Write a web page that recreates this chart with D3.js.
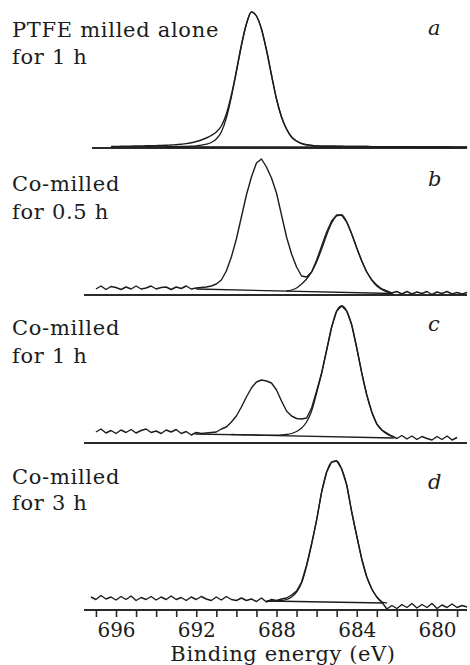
<!DOCTYPE html>
<html><head><meta charset="utf-8">
<script src="https://cdn.jsdelivr.net/npm/d3@7"></script>
<style>
html,body{margin:0;padding:0;background:#fff;}
svg{display:block;}
</style></head>
<body>
<svg id="chart" width="470" height="665"></svg>
<script>
// ---------- data ----------
const energy = [697.25,697,696.75,696.5,696.25,696,695.75,695.5,695.25,695,694.75,694.5,694.25,694,693.75,693.5,693.25,693,692.75,692.5,692.25,692,691.75,691.5,691.25,691,690.75,690.5,690.25,690,689.75,689.5,689.25,689,688.75,688.5,688.25,688,687.75,687.5,687.25,687,686.75,686.5,686.25,686,685.75,685.5,685.25,685,684.75,684.5,684.25,684,683.75,683.5,683.25,683,682.75,682.5,682.25,682,681.75,681.5,681.25,681,680.75,680.5,680.25,680,679.75,679.5,679.25,679,678.75,678.5];

const spectrumA = [null,null,null,null,1.5,1.6,1.7,1.8,1.9,2.0,2.1,2.2,2.3,2.4,2.5,2.7,3.0,3.3,3.8,4.4,5.3,6.5,8,10,12.5,16,22,34,53,77,103,124,136,132,119,98,73,49,31,19,11,7,4.5,3.2,2.5,2.1,1.9,1.8,1.8,1.7,1.7,1.6,1.6,1.5,1.5,1.5,1.4,1.4,1.4,1.3,1.3,1.3,1.2,1.2,1.2,1.1,1.1,1.1,1.0,1.0,1.0,1.0,0.9,0.9,0.9,0.9];
const fitA = [null,null,null,null,null,null,null,null,null,null,null,null,null,null,null,1.4,1.4,1.4,1.5,1.6,1.8,2.2,2.8,3.8,5.5,9,16,30,51,76,102,124,136,132,119,98,73,49,31,19,11,7,4.5,3.2,2.5,2.1,1.9,1.8,1.8,1.7,1.7,1.6,1.6,1.5,1.5,1.5,1.4,1.4,1.4,1.3,1.3,1.3,1.2,1.2,1.2,1.1,1.1,1.1,1.0,1.0,1.0,1.0,0.9,0.9,0.9,0.9];
const bgEnergyA = [696.25, 678.5];
const bgA = [1.4, 0.9];

const spectrumB = [null,6,9,5.5,8.5,7.5,5.5,8,6,9,6,7,9,6,7.5,8,5.5,8,6.5,9,6,7,7.5,8,9,11,15,24,38,56,78,100,118,132,136,128,117,102,80,58,41,28,19,18,23,35,49,63,74,80,80,73,61,47,34,23,15,10,6,4,2,3.5,1,3.5,1,3,1.5,3.5,0.5,3,1.5,3.5,1,2.5,1,2.5];
const fitB = [null,null,null,null,null,null,null,null,null,null,null,null,null,null,null,null,null,null,null,null,null,null,null,null,null,null,null,null,null,null,null,null,null,null,null,null,null,null,null,4,5,7,11,16,23,33,46,60,72,79,80,73,61,47,34,23,15,9,5.5,3,2,null,null,null,null,null,null,null,null,null,null,null,null,null,null,null];
const bgEnergyB = [692.0, 682.2];
const bgB = [6, 1.5];

const spectrumC = [null,11,14,10,12.5,9.5,13,10.5,13.5,10,12.5,14,10.5,12,9.5,13,11,13.5,9.5,11.5,8,10.5,9.5,10,10.5,11,14,16,21,27,36,46,55,61,63,62,60,53,42,32,27,24.5,24,25,35,52,70,93,116,132,137,132,118,95,70,48,31,19,13,10,7,4.5,7.5,4,7,3.5,6.5,4.5,3,6.5,3.5,7,3,5.5,null,null];
const fitC = [null,null,null,null,null,null,null,null,null,null,null,null,null,null,null,null,null,null,null,null,null,null,null,null,null,null,null,null,8.5,8.4,8.3,8.2,8.1,8.0,7.9,7.8,7.8,7.8,8.0,8.5,9.5,11.5,15,21,32,50,70,93,116,132,137,132,118,95,70,48,31,19,13,9,6.5,null,null,null,null,null,null,null,null,null,null,null,null,null,null,null];
const bgEnergyC = [692.05, 682.15];
const bgC = [9, 5];

const spectrumD = [13,10.5,14.5,11,13,10,13.5,10.5,14,9.5,12.5,10.5,13.5,10,13,10.5,14,10.5,12.5,9.5,13,10.5,13.5,11,9.5,13,10,13.5,10.5,9.5,12,9.5,11,8.5,12,8,10.5,9.5,11,12,15,19,28,45,66,90,118,138,148,149,141,125,98,74,51,33,21,13,8,1,4.5,1.5,5.5,2.5,6.5,2,5.5,2.5,6.5,1.5,5,2.5,6,2.5,4.5,3];
const fitD = [null,null,null,null,null,null,null,null,null,null,null,null,null,null,null,null,null,null,null,null,null,null,null,null,null,null,null,null,null,null,null,null,null,null,null,9,9,9.2,9.5,10.5,13,18,27,44,66,90,118,138,148,149,141,125,98,74,51,33,21,13,8,7,null,null,null,null,null,null,null,null,null,null,null,null,null,null,null,null];
const bgEnergyD = [688.45, 682.65];
const bgD = [9, 7];

const panelLetters = ["a", "b", "c", "d"];
const panelTitles = [["PTFE milled alone", "for 1 h"], ["Co-milled", "for 0.5 h"], ["Co-milled", "for 1 h"], ["Co-milled", "for 3 h"]];
const tickLabels = [696, 692, 688, 684, 680];
const minorTicks = [697,696,695,694,693,692,691,690,689,688,687,686,685,684,683,682,681,680,679];
const xTitle = "Binding energy (eV)";

// ---------- layout ----------
const panels = [
  {spec: spectrumA, fit: fitA, bgE: bgEnergyA, bg: bgA, axisY: 148, x0: 92, smooth: true,  titleY: [37, 64],  letterY: 35},
  {spec: spectrumB, fit: fitB, bgE: bgEnergyB, bg: bgB, axisY: 295, x0: 84, smooth: false, titleY: [191, 219], letterY: 186},
  {spec: spectrumC, fit: fitC, bgE: bgEnergyC, bg: bgC, axisY: 443, x0: 84, smooth: false, titleY: [335, 363], letterY: 331},
  {spec: spectrumD, fit: fitD, bgE: bgEnergyD, bg: bgD, axisY: 610, x0: 84, smooth: false, titleY: [484, 510], letterY: 489}
];

const svg = d3.select("#chart");
const x = d3.scaleLinear().domain([696, 680]).range([116, 437]);
const ink = "#1c1c1c";
const FONT = "'DejaVu Serif', serif";

panels.forEach((p, k) => {
  const y = d3.scaleLinear().domain([0, 150]).range([p.axisY, p.axisY - 150]);
  const g = svg.append("g");

  g.append("line")
    .attr("x1", p.x0).attr("x2", 467)
    .attr("y1", y(0)).attr("y2", y(0))
    .attr("stroke", "#2a2a2a").attr("stroke-width", 2);

  const pts = arr => energy.map((e, i) => [e, arr[i]]);
  const lineSmooth = d3.line().defined(d => d[1] != null)
    .x(d => x(d[0])).y(d => y(d[1])).curve(d3.curveMonotoneX);
  const lineRaw = d3.line().defined(d => d[1] != null)
    .x(d => x(d[0])).y(d => y(d[1])).curve(d3.curveLinear);

  g.append("path")
    .datum(p.bgE.map((e, i) => [e, p.bg[i]]))
    .attr("d", lineRaw)
    .attr("fill", "none").attr("stroke", ink).attr("stroke-width", 1.3);

  g.append("path")
    .datum(pts(p.fit))
    .attr("d", lineSmooth)
    .attr("fill", "none").attr("stroke", ink).attr("stroke-width", 1.3);

  g.append("path")
    .datum(pts(p.spec))
    .attr("d", p.smooth ? lineSmooth : lineRaw)
    .attr("fill", "none").attr("stroke", ink).attr("stroke-width", 1.4)
    .attr("stroke-linejoin", "round");

  panelTitles[k].forEach((t, j) => {
    svg.append("text")
      .attr("x", 12).attr("y", p.titleY[j])
      .attr("font-family", FONT).attr("font-size", 21)
      .attr("letter-spacing", 0.7)
      .attr("fill", ink)
      .text(t);
  });
  svg.append("text")
    .attr("x", 428).attr("y", p.letterY)
    .attr("font-family", FONT).attr("font-size", 21)
    .attr("font-style", "italic")
    .attr("fill", ink)
    .text(panelLetters[k]);
});

const axis = d3.axisBottom(x)
  .tickValues(minorTicks)
  .tickSize(7)
  .tickPadding(6)
  .tickSizeOuter(0)
  .tickFormat(d => tickLabels.includes(d) ? String(d) : "");
const ax = svg.append("g").attr("transform", "translate(0,610)").call(axis);
ax.select(".domain").remove();
ax.selectAll(".tick line").attr("stroke", "#2a2a2a").attr("stroke-width", 1.6);
ax.selectAll(".tick text")
  .attr("font-family", FONT).attr("font-size", 20)
  .attr("fill", ink);

svg.append("text")
  .attr("x", 283).attr("y", 661)
  .attr("text-anchor", "middle")
  .attr("font-family", FONT).attr("font-size", 21)
  .attr("letter-spacing", 0.6)
  .attr("fill", ink)
  .text(xTitle);
</script>
</body></html>
